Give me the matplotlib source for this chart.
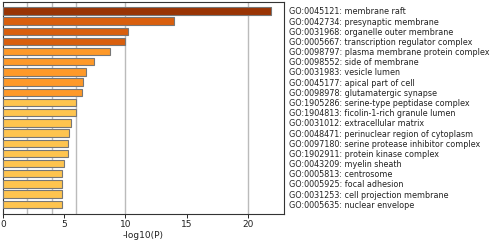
import matplotlib
matplotlib.use("Agg")
import matplotlib.pyplot as plt

terms = [
    "GO:0045121: membrane raft",
    "GO:0042734: presynaptic membrane",
    "GO:0031968: organelle outer membrane",
    "GO:0005667: transcription regulator complex",
    "GO:0098797: plasma membrane protein complex",
    "GO:0098552: side of membrane",
    "GO:0031983: vesicle lumen",
    "GO:0045177: apical part of cell",
    "GO:0098978: glutamatergic synapse",
    "GO:1905286: serine-type peptidase complex",
    "GO:1904813: ficolin-1-rich granule lumen",
    "GO:0031012: extracellular matrix",
    "GO:0048471: perinuclear region of cytoplasm",
    "GO:0097180: serine protease inhibitor complex",
    "GO:1902911: protein kinase complex",
    "GO:0043209: myelin sheath",
    "GO:0005813: centrosome",
    "GO:0005925: focal adhesion",
    "GO:0031253: cell projection membrane",
    "GO:0005635: nuclear envelope",
]
logp = [21.9, 14.0, 10.2, 10.0, 8.76, 7.43, 6.78, 6.5, 6.48, 5.99,
        5.93, 5.55, 5.36, 5.33, 5.33, 5.0, 4.85, 4.82, 4.82, 4.79]
grid_at = [2, 4, 6, 10, 20]


def bar_color(v):
    if v >= 20:
        return "#993404"
    if v >= 10:
        return "#d95f0e"
    if v >= 6:
        return "#fe9929"
    return "#fec44f"


fig = plt.figure(figsize=(4.98, 2.42), dpi=100)
ax = fig.add_axes([0.006, 0.116, 0.564, 0.876])

pos = list(range(len(terms)))
ax.barh(pos, logp, height=0.72, color=[bar_color(v) for v in logp],
        edgecolor="#777777", linewidth=0.8, zorder=3)

for g in grid_at:
    ax.axvline(g, color="#bbbbbb", linewidth=1.0, zorder=1)

ax.set_xlim(0, 22.95)
ax.set_ylim(19.95, -0.88)
ax.set_xticks([0, 5, 10, 15, 20])
ax.tick_params(axis="x", labelsize=6.5, length=3, width=0.6, pad=1.5,
               labelcolor="#222222")
ax.set_xlabel("-log10(P)", fontsize=6.5, labelpad=1, color="#222222")

ax.yaxis.tick_right()
ax.set_yticks(pos)
ax.set_yticklabels(terms, fontsize=5.8, color="#222222")
ax.tick_params(axis="y", length=0, pad=4)

for s in ax.spines.values():
    s.set_color("#333333")
    s.set_linewidth(0.8)

fig.savefig("out.png", dpi=100)
